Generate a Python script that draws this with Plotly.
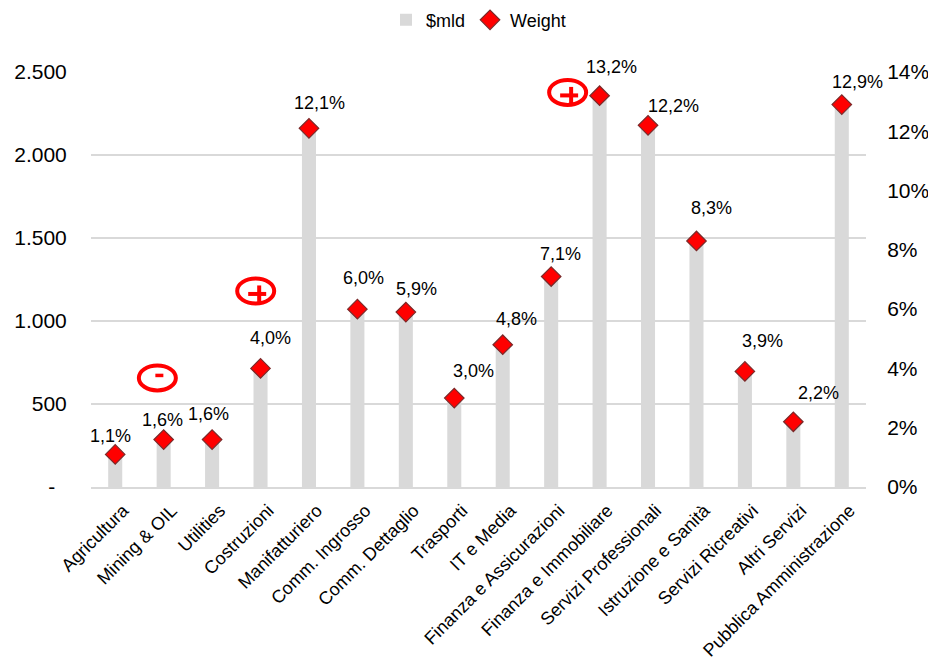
import plotly.graph_objects as go

# Settori e valori
categories = [
    "Agricultura", "Mining & OIL", "Utilities", "Costruzioni", "Manifatturiero",
    "Comm. Ingrosso", "Comm. Dettaglio", "Trasporti", "IT e Media",
    "Finanza e Assicurazioni", "Finanza e Immobiliare", "Servizi Professionali",
    "Istruzione e Sanità", "Servizi Ricreativi", "Altri Servizi",
    "Pubblica Amministrazione",
]
value_bn = [195, 290, 285, 715, 2160, 1075, 1050, 535, 860, 1270, 2360, 2180,
            1485, 700, 395, 2310]
weight_pct = [1.1, 1.6, 1.6, 4.0, 12.1, 6.0, 5.9, 3.0, 4.8, 7.1, 13.2, 12.2,
              8.3, 3.9, 2.2, 12.9]

left_ticks = [0, 500, 1000, 1500, 2000, 2500]
left_ticktext = ["-\u00a0\u00a0", "500", "1.000", "1.500", "2.000", "2.500"]
right_ticks = [0, 2, 4, 6, 8, 10, 12, 14]
right_ticktext = [f"{v}%" for v in right_ticks]

# Spostamento (px) delle etichette percentuali rispetto al marker
label_dx = [-5, -1, -4, 10, 11, 6, 11, 19, 14, 9, 12, 25, 15, 18, 25, 16]
label_dy = [18, 20, 26, 30, 25, 31, 23, 27, 26, 23, 29, 19, 33, 30, 29, 23]

# Segnalini (+/-): posizione in coordinate dati e segno
flags = [(0.87, 657, "-"), (2.90, 1181, "+"), (9.34, 2377, "+")]

FONT = "Arial, Liberation Sans, sans-serif"
RED = "#FF0000"
xs = list(range(len(categories)))

fig = go.Figure()
fig.add_trace(go.Bar(
    x=xs, y=value_bn, name="$mld", marker=dict(color="#D9D9D9", line_width=0),
    width=0.29, yaxis="y",
))
fig.add_trace(go.Scatter(
    x=xs, y=weight_pct, name="Weight", mode="markers", yaxis="y2",
    marker=dict(symbol="diamond", size=15, color=RED,
                line=dict(color="#7A2A2A", width=1.2)),
))

annotations = []
for i, w in enumerate(weight_pct):
    annotations.append(dict(
        x=xs[i], y=w, xref="x", yref="y2",
        text=f"{w:.1f}%".replace(".", ","), showarrow=False,
        xshift=label_dx[i], yshift=label_dy[i],
        font=dict(family=FONT, size=18, color="#000000"),
    ))

shapes = []
for fx, fy, sign in flags:
    shapes.append(dict(
        type="circle", xref="x", yref="y", xsizemode="pixel", ysizemode="pixel",
        xanchor=fx, yanchor=fy, x0=-18.5, x1=18.5, y0=-12.5, y1=12.5,
        line=dict(color=RED, width=4), fillcolor="rgba(0,0,0,0)", layer="above",
    ))
    if sign == "+":
        shapes.append(dict(
            type="line", xref="x", yref="y", xsizemode="pixel", ysizemode="pixel",
            xanchor=fx, yanchor=fy, x0=-7.5, x1=10.5, y0=-3, y1=-3,
            line=dict(color=RED, width=4), layer="above",
        ))
        shapes.append(dict(
            type="line", xref="x", yref="y", xsizemode="pixel", ysizemode="pixel",
            xanchor=fx, yanchor=fy, x0=3.5, x1=3.5, y0=5.5, y1=-11,
            line=dict(color=RED, width=4), layer="above",
        ))
    else:
        shapes.append(dict(
            type="line", xref="x", yref="y", xsizemode="pixel", ysizemode="pixel",
            xanchor=fx, yanchor=fy, x0=-2, x1=6, y0=2.5, y1=2.5,
            line=dict(color=RED, width=3.5), layer="above",
        ))

fig.update_layout(
    width=928, height=660,
    margin=dict(l=91, r=62, t=72, b=173, autoexpand=False),
    paper_bgcolor="white", plot_bgcolor="white",
    font=dict(family=FONT, size=18, color="#000000"),
    showlegend=True,
    legend=dict(orientation="h", x=0.5, xanchor="center", y=1.125,
                yanchor="middle", font=dict(size=18), itemwidth=30,
                traceorder="normal", bgcolor="rgba(0,0,0,0)"),
    xaxis=dict(
        tickvals=xs, ticktext=categories, tickangle=-45,
        range=[-0.5, len(categories) - 0.5], automargin=False,
        showgrid=False, showline=True, linecolor="#D9D9D9", linewidth=2,
        ticks="outside", ticklen=4, tickcolor="rgba(0,0,0,0)",
        tickfont=dict(size=18), zeroline=False, ticklabelshift=8,
    ),
    yaxis=dict(
        range=[0, 2500], tickvals=left_ticks, ticktext=left_ticktext,
        showgrid=True, gridcolor="#D9D9D9", gridwidth=1.6, automargin=False,
        zeroline=False, showline=False, ticks="outside", ticklen=19,
        tickcolor="rgba(0,0,0,0)", tickfont=dict(size=21),
    ),
    yaxis2=dict(
        range=[0, 14], tickvals=right_ticks, ticktext=right_ticktext,
        overlaying="y", side="right", showgrid=False, zeroline=False,
        showline=False, ticks="outside", ticklen=16, automargin=False,
        tickcolor="rgba(0,0,0,0)", tickfont=dict(size=21),
    ),
    annotations=annotations,
    shapes=shapes,
    bargap=0.7,
)

fig.write_html("out.html")
